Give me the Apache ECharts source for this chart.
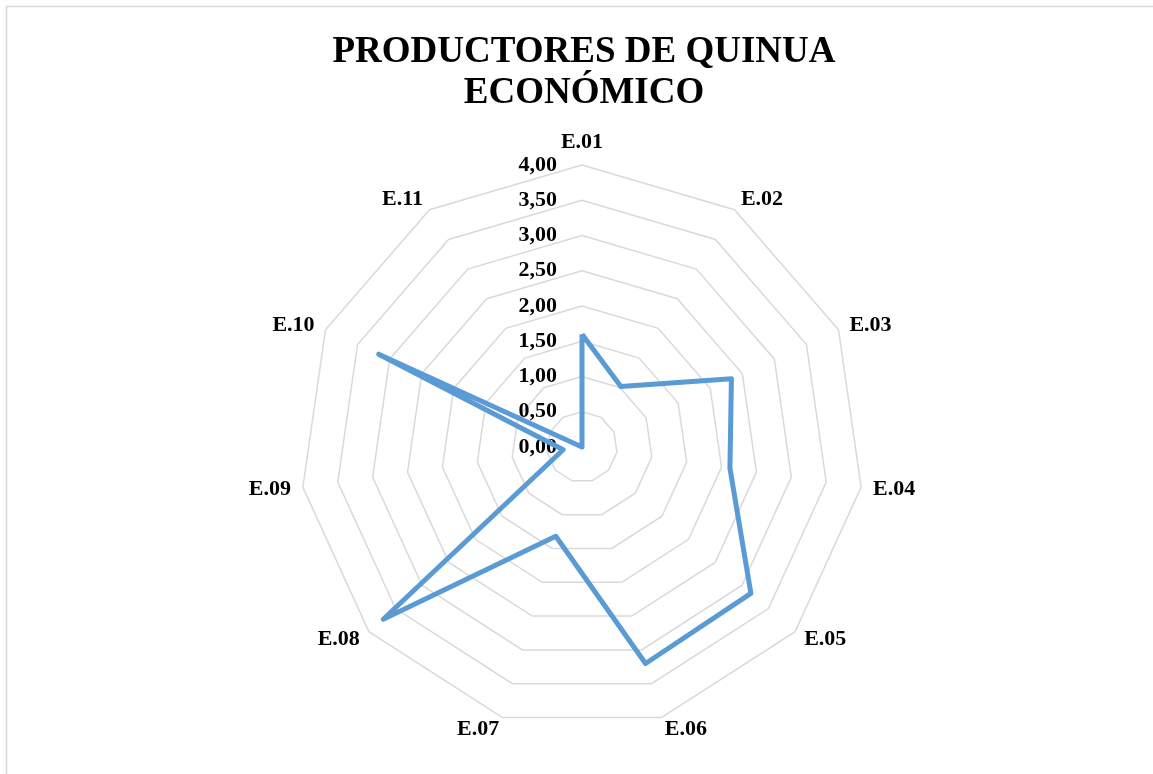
<!DOCTYPE html>
<html>
<head>
<meta charset="utf-8">
<title>Productores de quinua – Económico</title>
<script src="https://cdn.jsdelivr.net/npm/echarts@6/dist/echarts.min.js"></script>
<style>
  html, body { margin: 0; padding: 0; background: #fff; }
  #chart { width: 1153px; height: 774px; }
</style>
</head>
<body>
<div id="chart"></div>
<script>
// Indicator names, clockwise from the top
const categories = ['E.01', 'E.02', 'E.03', 'E.04', 'E.05', 'E.06', 'E.07', 'E.08', 'E.09', 'E.10', 'E.11'];
// Average score per indicator
const values = [1.60, 1.02, 2.33, 2.12, 3.17, 3.20, 1.32, 3.73, 0.27, 3.17, 0.00];
// Radial tick labels, 0 to 4 in steps of 0.5
const tickLabels = ['0,00', '0,50', '1,00', '1,50', '2,00', '2,50', '3,00', '3,50', '4,00'];

const serif = '"Liberation Serif", "Times New Roman", serif';

// ECharts lays radar indicators out counter-clockwise, so keep the first
// one at the top and reverse the rest to read clockwise.
const order = [0].concat(categories.map((_, i) => i).slice(1).reverse());

const indicators = order.map((idx, k) => {
  const ind = { name: categories[idx], min: 0, max: 4 };
  if (k === 0) ind.axisLabel = { show: true };
  return ind;
});
const radarValues = order.map(idx => values[idx]);

const chart = echarts.init(document.getElementById('chart'));

chart.setOption({
  animation: false,
  backgroundColor: '#ffffff',
  graphic: [{
    type: 'rect',
    shape: { x: 6.5, y: 6.5, width: 1200, height: 900 },
    style: { fill: 'none', stroke: '#d9d9d9', lineWidth: 1.6 },
    silent: true
  }],
  title: {
    text: 'PRODUCTORES DE QUINUA\nECONÓMICO',
    left: 579,
    top: 27,
    textAlign: 'center',
    textStyle: {
      fontFamily: serif,
      fontWeight: 'bold',
      fontSize: 37,
      lineHeight: 41,
      color: '#000'
    }
  },
  radar: {
    center: [582, 447],
    radius: 282,
    startAngle: 90,
    shape: 'polygon',
    splitNumber: 8,
    indicator: indicators,
    nameGap: 12,
    axisName: {
      color: '#000',
      fontFamily: serif,
      fontWeight: 'bold',
      fontSize: 22
    },
    axisLine: { show: false },
    axisTick: { show: false },
    splitArea: { show: false },
    splitLine: { lineStyle: { color: '#d9d9d9', width: 1.5 } },
    axisLabel: {
      show: false,
      color: '#000',
      fontFamily: serif,
      fontWeight: 'bold',
      fontSize: 22,
      margin: 25,
      formatter: function (v) { return tickLabels[Math.round(v / 0.5)]; }
    }
  },
  series: [{
    type: 'radar',
    z: 5,
    symbol: 'none',
    lineStyle: { color: '#5b9bd5', width: 5, join: 'round' },
    data: [{ value: radarValues, name: 'Económico' }]
  }]
});
</script>
</body>
</html>
